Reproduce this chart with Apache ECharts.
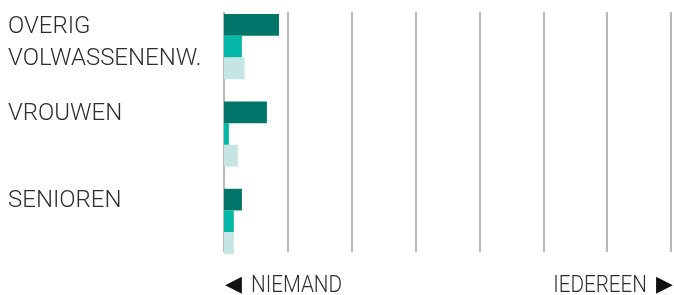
<!DOCTYPE html>
<html>
<head>
<meta charset="utf-8">
<script src="https://cdn.jsdelivr.net/npm/echarts@6/dist/echarts.min.js"></script>
<style>
html, body { margin: 0; padding: 0; background: #fff; }
#chart { width: 674px; height: 295px; }
</style>
</head>
<body>
<div id="chart"></div>
<script>
// categorieen en waarden (in procent)
var categories = ['OVERIG\nVOLWASSENENW.', 'VROUWEN', 'SENIOREN'];
var darkValues = [12.3, 9.6, 4.0];
var tealValues = [4.0, 1.1, 2.2];
var lightValues = [4.6, 3.1, 2.2];
var axisEnds = ['NIEMAND', 'IEDEREEN'];
var axisMax = 100;
var axisSteps = 7;

var chart = echarts.init(document.getElementById('chart'));
var font = 'Roboto';
var textColor = '#2e2e2e';

var option = {
	animation: false,
	grid: [
		// alleen rasterlijnen
		{ left: 224, right: 3, top: 12, height: 240, outerBoundsMode: 'none' },
		// balken
		{ left: 224, right: 3, top: 3, height: 262, outerBoundsMode: 'none' },
		// labels
		{ left: 224, right: 3, top: -33, height: 262, outerBoundsMode: 'none' }
	],
	xAxis: [
		{
			gridIndex: 0, type: 'value', min: 0, max: axisMax, interval: axisMax / axisSteps,
			axisLine: { show: false }, axisTick: { show: false }, axisLabel: { show: false },
			splitLine: { show: true, lineStyle: { color: '#a8a8a8', width: 1.6 } }
		},
		{ gridIndex: 1, type: 'value', min: 0, max: axisMax, show: false },
		{ gridIndex: 2, type: 'value', min: 0, max: axisMax, show: false }
	],
	yAxis: [
		{ gridIndex: 0, type: 'value', min: 0, max: 1, show: false },
		{ gridIndex: 1, type: 'category', inverse: true, data: categories, show: false },
		{
			gridIndex: 2, type: 'category', inverse: true, data: categories,
			axisLine: { show: false }, axisTick: { show: false }, splitLine: { show: false },
			axisLabel: {
				align: 'left', verticalAlign: 'top', margin: 216,
				fontFamily: font, fontWeight: 300, fontSize: 24, lineHeight: 32, color: textColor
			}
		}
	],
	series: [
		{ type: 'bar', xAxisIndex: 1, yAxisIndex: 1, data: darkValues, barWidth: 21.7, barGap: '0%', itemStyle: { color: '#00766a' } },
		{ type: 'bar', xAxisIndex: 1, yAxisIndex: 1, data: tealValues, barWidth: 21.7, barGap: '0%', itemStyle: { color: '#05b8a8' } },
		{ type: 'bar', xAxisIndex: 1, yAxisIndex: 1, data: lightValues, barWidth: 21.7, barGap: '0%', itemStyle: { color: '#c4e5e3' } }
	],
	graphic: [
		{
			type: 'text', x: 225, y: 285,
			style: { text: '◀', fontFamily: 'DejaVu Sans', fontSize: 22, fill: '#111', verticalAlign: 'middle' }
		},
		{
			type: 'text', x: 251, y: 274, scaleX: 0.86,
			style: { text: axisEnds[0], fontFamily: font, fontWeight: 300, fontSize: 24, fill: textColor, verticalAlign: 'top' }
		},
		{
			type: 'text', x: 647, y: 274, scaleX: 0.86,
			style: { text: axisEnds[1], fontFamily: font, fontWeight: 300, fontSize: 24, fill: textColor, align: 'right', verticalAlign: 'top' }
		},
		{
			type: 'text', x: 673, y: 285,
			style: { text: '▶', fontFamily: 'DejaVu Sans', fontSize: 22, fill: '#111', align: 'right', verticalAlign: 'middle' }
		}
	]
};
chart.setOption(option);
</script>
</body>
</html>
